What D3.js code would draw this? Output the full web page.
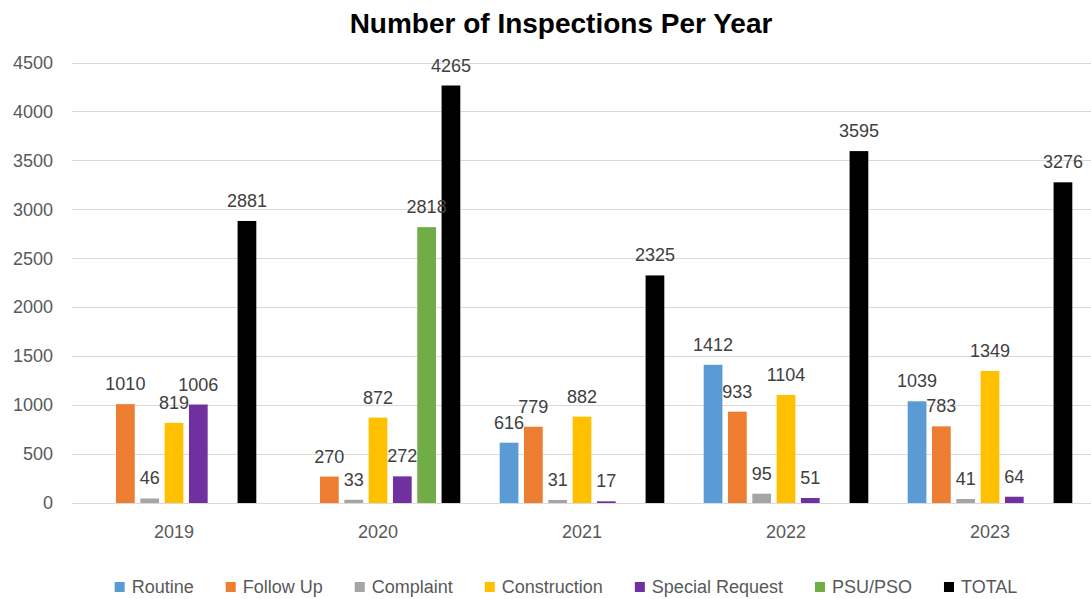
<!DOCTYPE html>
<html lang="en">
<head>
<meta charset="UTF-8">
<title>Number of Inspections Per Year</title>
<script src="https://cdn.jsdelivr.net/npm/d3@7"></script>
<style>
  body { margin: 0; background: #ffffff; }
  svg { display: block; font-family: "Liberation Sans", Arial, sans-serif; }
</style>
</head>
<body>
<script>
// data (null = no bar in that year)
var years = ["2019", "2020", "2021", "2022", "2023"];
var seriesNames = ["Routine", "Follow Up", "Complaint", "Construction", "Special Request", "PSU/PSO", "TOTAL"];
var seriesColors = ["#5b9bd5", "#ed7d31", "#a5a5a5", "#ffc000", "#7030a0", "#70ad47", "#000000"];
var routine        = [null, null, 616, 1412, 1039];
var followUp       = [1010, 270, 779, 933, 783];
var complaint      = [46, 33, 31, 95, 41];
var construction   = [819, 872, 882, 1104, 1349];
var specialRequest = [1006, 272, 17, 51, 64];
var psuPso         = [null, 2818, null, null, null];
var total          = [2881, 4265, 2325, 3595, 3276];
var yTicks = [0, 500, 1000, 1500, 2000, 2500, 3000, 3500, 4000, 4500];

var seriesValues = [routine, followUp, complaint, construction, specialRequest, psuPso, total];

var width = 1091, height = 599;
var svg = d3.select("body").append("svg")
    .attr("width", width)
    .attr("height", height);

// plot area
var plot = {left: 72, right: 1092, top: 62.5, bottom: 503};

var x0 = d3.scaleBand()
    .domain(years)
    .range([plot.left, plot.right])
    .padding(0);

var x1 = d3.scaleBand()
    .domain(seriesNames)
    .range([0, x0.bandwidth()])
    .paddingInner(0.23)
    .paddingOuter(0.81);

var y = d3.scaleLinear()
    .domain([0, 4500])
    .range([plot.bottom, plot.top]);

// gridlines
svg.append("g")
    .selectAll("line")
    .data(yTicks)
    .enter()
    .append("line")
    .attr("x1", plot.left)
    .attr("x2", plot.right)
    .attr("y1", function (d) { return Math.round(y(d)) + 0.5; })
    .attr("y2", function (d) { return Math.round(y(d)) + 0.5; })
    .attr("stroke", "#d9d9d9")
    .attr("stroke-width", 1);

// y axis labels
var axisY = d3.axisLeft(y).tickValues(yTicks).tickFormat(d3.format("d")).tickSize(0).tickPadding(0);
var gy = svg.append("g")
    .attr("transform", "translate(53,0)")
    .call(axisY);
gy.select(".domain").remove();
gy.selectAll("text")
    .attr("font-family", "Liberation Sans, Arial, sans-serif")
    .attr("font-size", "18px")
    .attr("fill", "#595959");

// x axis labels
var axisX = d3.axisBottom(x0).tickSize(0).tickPadding(0);
var gx = svg.append("g")
    .attr("transform", "translate(0,525)")
    .call(axisX);
gx.select(".domain").remove();
gx.selectAll("text")
    .attr("font-family", "Liberation Sans, Arial, sans-serif")
    .attr("font-size", "18px")
    .attr("fill", "#595959");

// flatten for bars
var barData = [];
years.forEach(function (yr, i) {
    seriesNames.forEach(function (s, j) {
        var v = seriesValues[j][i];
        if (v !== null) barData.push({year: yr, series: s, value: v, color: seriesColors[j]});
    });
});

svg.append("g")
    .selectAll("rect")
    .data(barData)
    .enter()
    .append("rect")
    .attr("x", function (d) { return x0(d.year) + x1(d.series); })
    .attr("y", function (d) { return y(d.value); })
    .attr("width", x1.bandwidth())
    .attr("height", function (d) { return y(0) - y(d.value); })
    .attr("fill", function (d) { return d.color; });

// value labels
svg.append("g")
    .selectAll("text")
    .data(barData)
    .enter()
    .append("text")
    .attr("x", function (d) { return x0(d.year) + x1(d.series) + x1.bandwidth() / 2; })
    .attr("y", function (d) { return y(d.value) - 14; })
    .attr("text-anchor", "middle")
    .attr("font-size", "18px")
    .attr("fill", "#404040")
    .text(function (d) { return d.value; });

// title
svg.append("text")
    .attr("x", 561)
    .attr("y", 33)
    .attr("text-anchor", "middle")
    .attr("font-size", "28px")
    .attr("font-weight", "bold")
    .attr("fill", "#000000")
    .text("Number of Inspections Per Year");

// legend
var legend = svg.append("g");
var items = legend.selectAll("g")
    .data(seriesNames)
    .enter()
    .append("g");
items.append("rect")
    .attr("width", 10)
    .attr("height", 10)
    .attr("y", -11)
    .attr("fill", function (d, i) { return seriesColors[i]; });
items.append("text")
    .attr("x", 17)
    .attr("y", 0)
    .attr("font-size", "18px")
    .attr("fill", "#595959")
    .text(function (d) { return d; });

var gap = 32;
var offsets = [], cur = 0;
items.each(function () {
    offsets.push(cur);
    cur += 17 + d3.select(this).select("text").node().getComputedTextLength() + gap;
});
var legendWidth = cur - gap;
var startX = 566 - legendWidth / 2;
items.attr("transform", function (d, i) { return "translate(" + (startX + offsets[i]) + ",593)"; });
</script>
</body>
</html>
